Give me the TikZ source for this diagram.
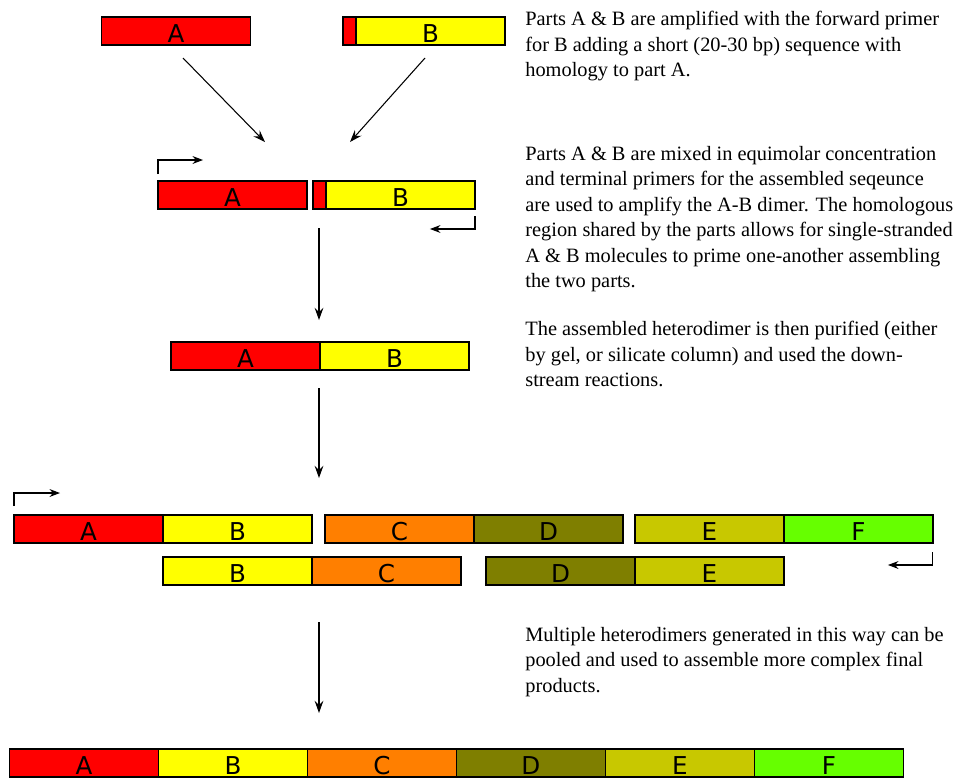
\documentclass[tikz,border=0pt]{standalone}
\usepackage{fontspec}
\setmainfont{Liberation Serif}
\newfontfamily\partfont{DejaVu Sans}
\usetikzlibrary{arrows.meta, positioning}
\definecolor{partA}{HTML}{FF0000}
\definecolor{partB}{HTML}{FFFF00}
\definecolor{partC}{HTML}{FF7F00}
\definecolor{partD}{HTML}{7F7F00}
\definecolor{partE}{HTML}{C8C800}
\definecolor{partF}{HTML}{66FF00}

\begin{document}
\begin{tikzpicture}[x=0.02cm, y=-0.02cm,
  part/.style={rectangle, draw=black, line width=0.8pt, minimum width=2.98cm, minimum height=0.56cm, inner sep=0pt, outer sep=0pt, text height=12.6pt, text depth=0pt, font=\partfont\fontsize{14}{14}\selectfont},
  tag/.style={part, fill=partA, minimum width=0.26cm},
  arrow/.style={-{Stealth[length=7pt, width=5pt, inset=2.5pt]}, line width=0.6pt},
  primer/.style={-{Stealth[length=6pt, width=4.5pt, inset=2pt]}, line width=0.6pt},
  note/.style={align=left, anchor=north west, inner sep=0pt, font=\fontsize{11.6}{14.5}\selectfont}
]
  \useasboundingbox (0,0) rectangle (960,778);

  % step 1: separate parts
  \node[part, fill=partA] (a1) at (176,31) {A};
  \node[tag] (t1) at (349.5,31) {};
  \node[part, fill=partB, right=0pt of t1] (b1) {B};

  % step 2: mixed parts with primers
  \node[part, fill=partA] (a2) at (232.5,195) {A};
  \node[tag] (t2) at (319.5,195) {};
  \node[part, fill=partB, right=0pt of t2] (b2) {B};

  % step 3: heterodimer
  \node[part, fill=partA] (a3) at (245.5,356) {A};
  \node[part, fill=partB, right=0pt of a3] (b3) {B};

  % step 4: pooled dimers
  \node[part, fill=partA] (a4) at (88.5,529) {A};
  \node[part, fill=partB, right=0pt of a4] (b4) {B};
  \node[part, fill=partC] (c4) at (399.5,529) {C};
  \node[part, fill=partD, right=0pt of c4] (d4) {D};
  \node[part, fill=partE] (e4) at (709.5,529) {E};
  \node[part, fill=partF, right=0pt of e4] (f4) {F};
  \node[part, fill=partB] (b5) at (237.5,571) {B};
  \node[part, fill=partC, right=0pt of b5] (c5) {C};
  \node[part, fill=partD] (d5) at (560.5,571) {D};
  \node[part, fill=partE, right=0pt of d5] (e5) {E};

  % step 5: final product
  \node[part, fill=partA] (a6) at (84,763) {A};
  \node[part, fill=partB, right=0pt of a6] (b6) {B};
  \node[part, fill=partC, right=0pt of b6] (c6) {C};
  \node[part, fill=partD, right=0pt of c6] (d6) {D};
  \node[part, fill=partE, right=0pt of d6] (e6) {E};
  \node[part, fill=partF, right=0pt of e6] (f6) {F};

  % arrow ends
  \coordinate (s1) at (183,58);   \coordinate (m1) at (265,142);
  \coordinate (s2) at (425,58);   \coordinate (m2) at (350,142);
  \coordinate (s3) at (319,228);  \coordinate (m3) at (319,320);
  \coordinate (s4) at (319,388);  \coordinate (m4) at (319,478);
  \coordinate (s5) at (319,622);  \coordinate (m5) at (319,713);

  \draw[arrow] (s1) -- (m1);
  \draw[arrow] (s2) -- (m2);
  \draw[arrow] (s3) -- (m3);
  \draw[arrow] (s4) -- (m4);
  \draw[arrow] (s5) -- (m5);

  % primers
  \draw[primer] (a2.north west) ++(0,-7) |- ++(45,-14);
  \draw[primer] (b2.south east) ++(0,7) |- ++(-45,13);
  \draw[primer] (a4.north west) ++(0,-9) |- ++(46,-13);
  \draw[primer] (f4.south east) ++(0,9) |- ++(-45,13);

  % notes
  \node[note] (n1) at (525,11) {Parts A \& B are amplified with the forward primer\\for B adding a short (20-30 bp) sequence with\\homology to part A.};
  \node[note] (n2) at (525,146) {Parts A \& B are mixed in equimolar concentration\\and terminal primers for the assembled seqeunce\\are used to amplify the A-B dimer. The homologous\\region shared by the parts allows for single-stranded\\A \& B molecules to prime one-another assembling\\the two parts.};
  \node[note] (n3) at (525,321) {The assembled heterodimer is then purified (either\\by gel, or silicate column) and used the down-\\stream reactions.};
  \node[note] (n4) at (525,627) {Multiple heterodimers generated in this way can be\\pooled and used to assemble more complex final\\products.};
\end{tikzpicture}
\end{document}
